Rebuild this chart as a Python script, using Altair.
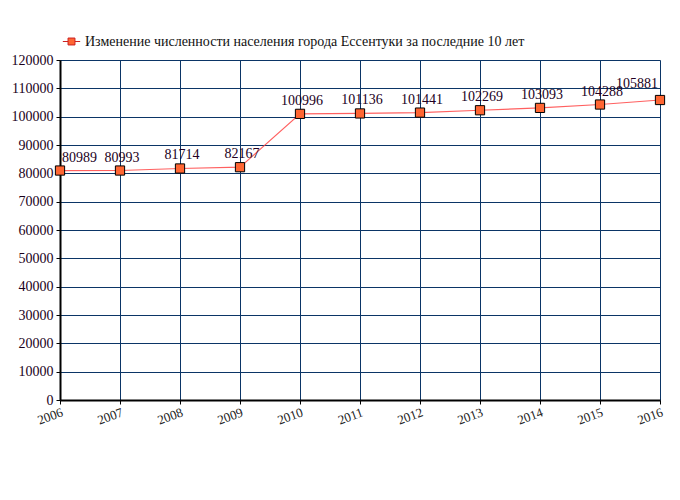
import altair as alt
import pandas as pd

years = [2006, 2007, 2008, 2009, 2010, 2011, 2012, 2013, 2014, 2015, 2016]
population = [80989, 80993, 81714, 82167, 100996, 101136, 101441, 102269, 103093, 104288, 105881]
series_name = "Изменение численности населения города Ессентуки за последние 10 лет"
y_ticks = list(range(0, 120001, 10000))

df = pd.DataFrame({"year": years, "pop": population, "series": series_name})

FONT = "'Liberation Serif', 'Times New Roman', serif"

x = alt.X("year:Q", scale=alt.Scale(domain=[2006, 2016], nice=False, zero=False),
          axis=alt.Axis(values=years, format="d", title=None, labelAngle=-20,
                        labelAlign="right", labelBaseline="top", labelFont=FONT,
                        labelFontSize=13, labelColor="#222222", labelPadding=2,
                        tickSize=4, tickColor="#000000", domainColor="#000000",
                        domainWidth=2, gridColor="#0b3566", gridWidth=1))
y = alt.Y("pop:Q", scale=alt.Scale(domain=[0, 120000], nice=False),
          axis=alt.Axis(values=y_ticks, format="d", title=None, labelFont=FONT,
                        labelFontSize=14, labelColor="#1a001a", labelPadding=3,
                        tickSize=4, tickColor="#000000", domainColor="#000000",
                        domainWidth=2, gridColor="#0b3566", gridWidth=1))

base = alt.Chart(df).encode(x=x, y=y)

line = base.mark_line(color="#ff4444", strokeWidth=1.2, opacity=0.85)

points = base.mark_point(shape="square", filled=True, size=85, stroke="#000000",
                         strokeWidth=1, opacity=1).encode(
    color=alt.Color("series:N",
                    scale=alt.Scale(range=["#ff6633"]),
                    legend=alt.Legend(
                        title=None, orient="none", legendX=2, legendY=-28,
                        symbolType="M-1,0L-0.4,0M0.4,0L1,0M-0.4,-0.4L0.4,-0.4L0.4,0.4L-0.4,0.4Z",
                        symbolSize=300, symbolStrokeColor="#cc2222",
                        symbolFillColor="#ff6633", symbolStrokeWidth=1,
                        labelFont=FONT, labelFontSize=14, labelColor="#111111",
                        labelLimit=600, labelOffset=4))
)

mid = base.transform_filter("datum.year > 2006 && datum.year < 2016")
labels_mid = mid.mark_text(font=FONT, fontSize=14, color="#220022", dy=-13, dx=2,
                           align="center").encode(text=alt.Text("pop:Q", format="d"))
labels_first = base.transform_filter("datum.year == 2006").mark_text(
    font=FONT, fontSize=14, color="#220022", dy=-13, dx=2, align="left").encode(
    text=alt.Text("pop:Q", format="d"))
labels_last = base.transform_filter("datum.year == 2016").mark_text(
    font=FONT, fontSize=14, color="#220022", dy=-16, dx=-2, align="right").encode(
    text=alt.Text("pop:Q", format="d"))

chart = alt.layer(line, points, labels_mid, labels_first, labels_last).properties(
    width=600, height=340,
    padding={"left": 52, "top": 52, "right": 12, "bottom": 40},
    autosize=alt.AutoSizeParams(type="none"),
).configure_view(stroke="#000000", strokeWidth=1).configure(background="white")

chart.save("out.html", embed_options={"renderer": "svg", "actions": False})
